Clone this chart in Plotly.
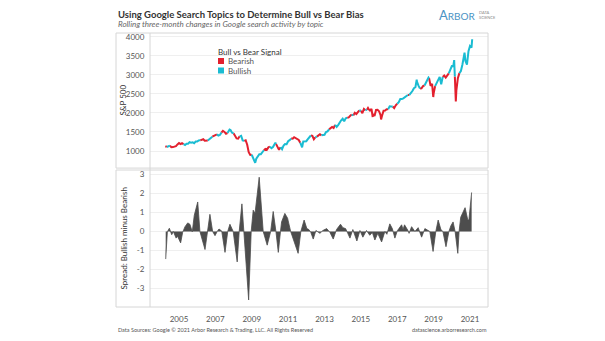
import numpy as np
import plotly.graph_objects as go

# ---------------- DATA ----------------
# S&P 500 month-end closes, starting end of March 2004
sp_first_month = 2004.25
sp_monthly = [
    1126, 1107, 1121, 1141, 1102, 1104, 1115, 1130, 1174, 1212,
    1181, 1204, 1181, 1157, 1192, 1191, 1234, 1220, 1229, 1207, 1249, 1248,
    1280, 1281, 1295, 1311, 1270, 1270, 1277, 1304, 1336, 1378, 1401, 1418,
    1438, 1407, 1421, 1482, 1531, 1503, 1455, 1474, 1527, 1549, 1481, 1468,
    1379, 1331, 1323, 1386, 1400, 1280, 1267, 1283, 1166, 969, 896, 903,
    826, 735, 798, 873, 919, 919, 987, 1021, 1057, 1036, 1096, 1115,
    1074, 1104, 1169, 1187, 1089, 1031, 1102, 1049, 1141, 1183, 1181, 1258,
    1286, 1327, 1326, 1364, 1345, 1321, 1292, 1219, 1131, 1253, 1247, 1258,
    1312, 1366, 1408, 1398, 1310, 1362, 1379, 1407, 1441, 1412, 1416, 1426,
    1498, 1515, 1569, 1598, 1631, 1606, 1686, 1633, 1682, 1757, 1806, 1848,
    1783, 1859, 1872, 1884, 1924, 1960, 1931, 2003, 1972, 2018, 2068, 2059,
    1995, 2105, 2068, 2086, 2107, 2063, 2104, 1972, 1920, 2079, 2080, 2044,
    1940, 1932, 2060, 2065, 2097, 2099, 2174, 2171, 2168, 2126, 2199, 2239,
    2279, 2364, 2363, 2384, 2412, 2423, 2470, 2472, 2519, 2575, 2648, 2674,
    2824, 2714, 2641, 2648, 2705, 2718, 2816, 2902, 2914, 2712, 2760, 2507,
    2704, 2784, 2834, 2946, 2752, 2942, 2980, 2926, 2977, 3038, 3141, 3231,
    3226, 2954, 2585, 2912, 3044, 3100, 3271, 3500, 3363, 3270, 3622, 3756,
    3714,
]
# intra-month extremes (decimal year, level)
sp_extra_t = [2007.78, 2009.19, 2010.30, 2011.33, 2011.77, 2015.39, 2015.65,
              2016.11, 2018.07, 2018.72, 2018.98, 2020.13, 2020.22, 2020.70, 2021.12]
sp_extra_v = [1562, 690, 1217, 1363, 1099, 2130, 1893,
              1829, 2873, 2930, 2417, 3386, 2304, 3580, 3934]

# Spread: Bullish minus Bearish (decimal year, value)
spread_t = [
    2004.27, 2004.36, 2004.47, 2004.60, 2004.69, 2004.84, 2004.92, 2005.09, 2005.20,
    2005.33, 2005.48, 2005.60, 2005.73, 2005.84, 2006.03, 2006.15, 2006.43, 2006.55,
    2006.70, 2006.85, 2006.98, 2007.10, 2007.20, 2007.35, 2007.53, 2007.68, 2007.80,
    2007.90, 2007.98, 2008.20, 2008.31, 2008.46, 2008.57, 2008.83, 2008.97, 2009.08,
    2009.18, 2009.41, 2009.63, 2009.85, 2010.04, 2010.18, 2010.33, 2010.46, 2010.58,
    2010.64, 2010.82, 2010.97, 2011.14, 2011.55, 2011.70, 2011.88, 2012.03, 2012.14,
    2012.25, 2012.38, 2012.53, 2012.75, 2012.91, 2013.12, 2013.30, 2013.48, 2013.66,
    2013.88, 2014.01, 2014.16, 2014.28, 2014.40, 2014.56, 2014.78, 2014.95, 2015.11,
    2015.31, 2015.49, 2015.63, 2015.77, 2015.93, 2016.14, 2016.32, 2016.43, 2016.59,
    2016.73, 2016.87, 2017.01, 2017.09, 2017.24, 2017.32, 2017.40, 2017.59, 2017.65,
    2017.79, 2017.97, 2018.15, 2018.34, 2018.52, 2018.68, 2018.79, 2018.97, 2019.12,
    2019.25, 2019.40, 2019.51, 2019.68, 2019.84, 2019.95, 2020.07, 2020.18, 2020.33,
    2020.40, 2020.49, 2020.73, 2020.88, 2020.94, 2021.09,
]
spread_v = [
    -1.45, -0.02, 0.17, -0.17, 0.0, -0.35, -0.25, -0.6, -0.05,
    0.25, 0.45, 0.38, -0.02, 0.85, 1.55, 0.0, -0.95, 0.0,
    0.9, 0.0, -0.22, 0.0, 0.13, 0.02, -1.1, 0.0, 0.38,
    0.17, 0.0, -1.6, 0.0, 1.45, 0.0, -3.6, 0.0, 1.12,
    0.95, 2.85, 0.0, -0.72, 0.0, 1.05, 0.0, -1.1, 0.0,
    0.5, 0.95, 0.7, 0.0, -1.15, 0.0, 0.6, 0.15, 0.1,
    -0.05, -0.4, 0.05, -0.1, 0.05, 0.15, -0.05, -0.4, 0.1,
    0.38, 0.2, 0.15, -0.1, -0.35, 0.1, -0.5, 0.05, -0.3,
    0.05, -0.2, -0.05, -0.45, -0.1, -0.55, 0.0, -0.15, 0.4,
    0.15, -0.35, 0.05, 0.15, 0.35, 0.1, 0.35, 0.05, -0.1,
    0.25, 0.0, 0.2, -0.3, 0.15, 0.05, 0.0, -1.05, 0.0,
    0.6, 0.1, 0.0, -0.8, 0.0, 0.3, 0.5, 0.0, -1.15,
    0.0, 0.75, 1.25, 0.6, 0.6, 2.05,
]

year_ticks = [2005, 2007, 2009, 2011, 2013, 2015, 2017, 2019, 2021]
sp_ticks = [1000, 1500, 2000, 2500, 3000, 3500, 4000]
spread_ticks = [-3, -2, -1, 0, 1, 2, 3]

BEAR = "#E3202E"
BULL = "#1ABCD2"
AREA = "#4D4D4D"

# ---------------- BUILD ----------------
sp_t = [sp_first_month + i / 12 for i in range(len(sp_monthly))] + sp_extra_t
sp_v = list(sp_monthly) + sp_extra_v
order = np.argsort(sp_t)
sp_t = np.array(sp_t)[order]
sp_v = np.array(sp_v)[order]

# colour each segment by sign of the spread signal
mid = (sp_t[:-1] + sp_t[1:]) / 2
bull = np.interp(mid, spread_t, spread_v) >= 0

runs = {True: ([], []), False: ([], [])}
i = 0
n = len(bull)
while i < n:
    j = i
    while j + 1 < n and bull[j + 1] == bull[i]:
        j += 1
    xs, ys = runs[bool(bull[i])]
    xs.extend(list(sp_t[i:j + 2]) + [None])
    ys.extend(list(sp_v[i:j + 2]) + [None])
    i = j + 1

fig = go.Figure()
fig.add_trace(go.Scatter(x=runs[False][0], y=runs[False][1], mode="lines",
                         line=dict(color=BEAR, width=2), showlegend=False,
                         xaxis="x", yaxis="y"))
fig.add_trace(go.Scatter(x=runs[True][0], y=runs[True][1], mode="lines",
                         line=dict(color=BULL, width=2), showlegend=False,
                         xaxis="x", yaxis="y"))
fig.add_trace(go.Scatter(x=spread_t, y=spread_v, mode="lines", fill="tozeroy",
                         fillcolor=AREA, line=dict(color=AREA, width=0.8),
                         showlegend=False, xaxis="x2", yaxis="y2"))

XR = [2003.406, 2021.99]
TICKFONT = dict(family="Lato, Open Sans, sans-serif", size=8, color="#555555")
GRID = "#EFEFEF"
top_dom = [0.507, 1.0]
bot_dom = [0.0, 0.5]

fig.update_layout(
    width=605, height=341,
    margin=dict(l=150, r=117, t=33, b=34),
    paper_bgcolor="white", plot_bgcolor="white",
    xaxis=dict(domain=[0, 1], anchor="y", range=XR, showticklabels=False,
               showgrid=False, zeroline=False, showline=False),
    yaxis=dict(domain=top_dom, anchor="x", range=[553, 4097], tickvals=sp_ticks,
               showgrid=True, gridcolor=GRID, gridwidth=1, zeroline=False,
               showline=False, ticks="outside", ticklen=3,
               tickcolor="rgba(0,0,0,0)", tickfont=TICKFONT),
    xaxis2=dict(domain=[0, 1], anchor="y2", range=XR, tickvals=year_ticks,
                showgrid=False, zeroline=False, showline=False,
                ticks="outside", ticklen=4, tickcolor="rgba(0,0,0,0)",
                tickfont=TICKFONT),
    yaxis2=dict(domain=bot_dom, anchor="x2", range=[-3.97, 3.23],
                tickvals=spread_ticks, ticktext=[str(v) for v in spread_ticks],
                showgrid=True, gridcolor=GRID, gridwidth=1, zeroline=False,
                showline=False, ticks="outside", ticklen=3,
                tickcolor="rgba(0,0,0,0)", tickfont=TICKFONT),
    font=dict(family="Lato, Open Sans, sans-serif"),
)

PW = 338.0
left_px = -34 / PW  # pane border starts left of the axis
BORDER = "#D6D6D6"
shapes = [
    dict(type="rect", xref="paper", yref="paper", x0=left_px, x1=1,
         y0=top_dom[0], y1=top_dom[1], line=dict(color=BORDER, width=1)),
    dict(type="rect", xref="paper", yref="paper", x0=left_px, x1=1,
         y0=bot_dom[0], y1=bot_dom[1], line=dict(color=BORDER, width=1)),
    dict(type="line", xref="paper", yref="paper", x0=0, x1=0,
         y0=0, y1=1, line=dict(color=BORDER, width=1)),
]

# legend swatches (paper coords relative to plot area)
def px_x(x):
    return (x - 150) / PW

def px_y(y):
    return (307 - y) / 274.0

for yy, col in [(61, BEAR), (70.5, BULL)]:
    shapes.append(dict(type="rect", xref="paper", yref="paper",
                       x0=px_x(218), x1=px_x(224), y0=px_y(yy + 3), y1=px_y(yy - 3),
                       fillcolor=col, line=dict(width=0)))

annotations = [
    dict(text="<b>Using Google Search Topics to Determine Bull vs Bear Bias</b>",
         xref="paper", yref="paper", x=px_x(116), y=px_y(14), xanchor="left",
         yanchor="middle", showarrow=False,
         font=dict(size=9.5, color="#333333", family="Lato, Open Sans, sans-serif")),
    dict(text="<i>Rolling three-month changes in Google search activity by topic</i>",
         xref="paper", yref="paper", x=px_x(116), y=px_y(24.5), xanchor="left",
         yanchor="middle", showarrow=False,
         font=dict(size=8, color="#666666", family="Lato, Open Sans, sans-serif")),
    dict(text="A<span style='font-size:10px'>RBOR</span>",
         xref="paper", yref="paper", x=px_x(437), y=px_y(15), xanchor="left",
         yanchor="middle", showarrow=False,
         font=dict(size=13, color="#4A93C4", family="Lato, Open Sans, sans-serif")),
    dict(text="DATA<br>SCIENCE",
         xref="paper", yref="paper", x=px_x(477), y=px_y(14.5), xanchor="left",
         yanchor="middle", showarrow=False, align="left",
         font=dict(size=4, color="#888888", family="Lato, Open Sans, sans-serif")),
    dict(text="Bull vs Bear Signal", xref="paper", yref="paper",
         x=px_x(216), y=px_y(52), xanchor="left", yanchor="middle", showarrow=False,
         font=dict(size=8, color="#333333", family="Lato, Open Sans, sans-serif")),
    dict(text="Bearish", xref="paper", yref="paper",
         x=px_x(226), y=px_y(61), xanchor="left", yanchor="middle", showarrow=False,
         font=dict(size=8, color="#555555", family="Lato, Open Sans, sans-serif")),
    dict(text="Bullish", xref="paper", yref="paper",
         x=px_x(226), y=px_y(70.5), xanchor="left", yanchor="middle", showarrow=False,
         font=dict(size=8, color="#555555", family="Lato, Open Sans, sans-serif")),
    dict(text="S&P 500", xref="paper", yref="paper", x=px_x(123),
         y=(top_dom[0] + top_dom[1]) / 2, xanchor="center", yanchor="middle",
         textangle=-90, showarrow=False,
         font=dict(size=8, color="#333333", family="Lato, Open Sans, sans-serif")),
    dict(text="Spread: Bullish minus Bearish", xref="paper", yref="paper",
         x=px_x(123), y=(bot_dom[0] + bot_dom[1]) / 2, xanchor="center",
         yanchor="middle", textangle=-90, showarrow=False,
         font=dict(size=8, color="#333333", family="Lato, Open Sans, sans-serif")),
    dict(text="Data Sources: Google © 2021 Arbor Research & Trading, LLC. All Rights Reserved",
         xref="paper", yref="paper", x=px_x(116), y=px_y(330), xanchor="left",
         yanchor="middle", showarrow=False,
         font=dict(size=5.5, color="#555555", family="Lato, Open Sans, sans-serif")),
    dict(text="datascience.arborresearch.com",
         xref="paper", yref="paper", x=px_x(489), y=px_y(330), xanchor="right",
         yanchor="middle", showarrow=False,
         font=dict(size=5.5, color="#555555", family="Lato, Open Sans, sans-serif")),
]

fig.update_layout(shapes=shapes, annotations=annotations)
fig.write_html("out.html")
